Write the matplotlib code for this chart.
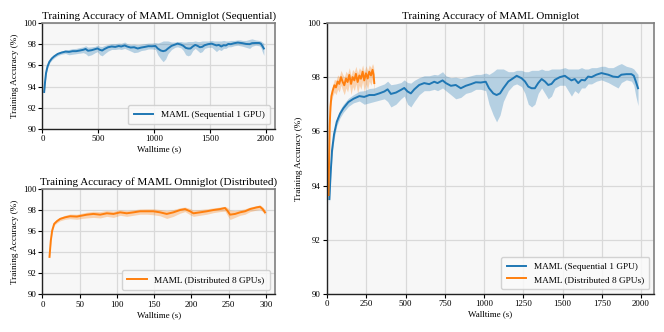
import numpy as np
import matplotlib
matplotlib.use('Agg')
from matplotlib import pyplot as plt

plt.rcParams['font.family'] = ['Liberation Serif', 'DejaVu Serif']

# Sequential run (1 GPU): walltime, mean accuracy, lower / upper band
seq_t = [15, 23, 32, 45, 62, 83, 104, 136, 168, 206, 237, 269, 301, 333, 365, 386,
         407, 439, 471, 492, 513, 534, 556, 587, 619, 651, 683, 704, 736, 757, 789,
         820, 852, 884, 916, 948, 979, 1011, 1032, 1059, 1080, 1102, 1123, 1155,
         1186, 1208, 1239, 1261, 1282, 1303, 1324, 1345, 1367, 1388, 1409, 1430,
         1451, 1483, 1515, 1536, 1557, 1578, 1600, 1621, 1642, 1663, 1685, 1716,
         1748, 1769, 1791, 1822, 1854, 1875, 1907, 1939, 1954, 1967, 1981]
seq_acc = [93.50, 94.45, 95.30, 95.90, 96.35, 96.65, 96.85, 97.08, 97.20, 97.30,
           97.27, 97.34, 97.34, 97.40, 97.47, 97.55, 97.38, 97.43, 97.53, 97.60,
           97.47, 97.40, 97.55, 97.71, 97.78, 97.74, 97.83, 97.78, 97.88, 97.78,
           97.68, 97.71, 97.59, 97.68, 97.74, 97.81, 97.80, 97.83, 97.59, 97.40,
           97.34, 97.40, 97.59, 97.84, 97.96, 98.05, 97.96, 97.84, 97.65, 97.59,
           97.59, 97.78, 97.93, 97.84, 97.71, 97.75, 97.90, 98.00, 98.05, 97.96,
           97.88, 97.93, 97.78, 97.90, 97.88, 98.02, 98.00, 98.09, 98.15, 98.12,
           98.09, 98.02, 98.00, 98.09, 98.11, 98.11, 98.05, 97.84, 97.59]
seq_lo = [93.30, 94.25, 95.10, 95.72, 96.20, 96.50, 96.70, 96.92, 97.05, 97.12,
          97.00, 97.05, 97.10, 97.15, 97.20, 97.10, 96.90, 97.00, 97.20, 97.30,
          97.00, 96.90, 97.10, 97.35, 97.50, 97.50, 97.55, 97.50, 97.60, 97.50,
          97.35, 97.20, 97.25, 97.40, 97.45, 97.55, 97.55, 97.50, 97.00, 96.60,
          96.35, 96.60, 97.10, 97.50, 97.70, 97.75, 97.65, 97.40, 97.00, 96.90,
          97.00, 97.40, 97.60, 97.40, 97.20, 97.30, 97.60, 97.70, 97.70, 97.50,
          97.30, 97.50, 97.40, 97.60, 97.60, 97.75, 97.75, 97.85, 97.90, 97.85,
          97.80, 97.70, 97.60, 97.80, 97.90, 97.85, 97.70, 97.30, 96.95]
seq_hi = [93.65, 94.60, 95.45, 96.05, 96.50, 96.80, 97.00, 97.22, 97.35, 97.48,
          97.50, 97.58, 97.60, 97.68, 97.75, 97.85, 97.72, 97.75, 97.80, 97.90,
          97.80, 97.78, 97.88, 97.98, 98.05, 98.05, 98.10, 98.08, 98.20, 98.05,
          97.98, 98.00, 97.95, 98.00, 98.05, 98.10, 98.10, 98.15, 98.10, 98.20,
          98.30, 98.30, 98.30, 98.20, 98.20, 98.25, 98.25, 98.20, 98.20, 98.25,
          98.25, 98.25, 98.30, 98.25, 98.25, 98.30, 98.30, 98.30, 98.35, 98.30,
          98.30, 98.30, 98.30, 98.35, 98.30, 98.30, 98.35, 98.35, 98.40, 98.40,
          98.35, 98.35, 98.45, 98.50, 98.40, 98.35, 98.30, 98.20, 98.10]

# Distributed run (8 GPUs), as shown in the lower-left panel
dist_t = [9.4, 11.2, 13.0, 15.7, 19.3, 23.7, 30.4, 37.1, 46.1, 52.8, 59.5, 68.4,
          77.4, 86.3, 95.3, 104.2, 113.1, 122.1, 131.0, 140.0, 148.9, 157.9, 166.8,
          175.7, 184.7, 191.4, 198.1, 202.6, 211.5, 220.5, 229.4, 238.3, 245.0,
          248.2, 251.8, 258.5, 265.2, 271.9, 278.6, 287.6, 292.0, 295.6, 298.7]
dist_acc = [93.56, 95.13, 96.06, 96.69, 96.94, 97.16, 97.31, 97.41, 97.38, 97.47,
            97.56, 97.63, 97.56, 97.69, 97.63, 97.78, 97.69, 97.78, 97.88, 97.88,
            97.88, 97.78, 97.63, 97.78, 98.00, 98.09, 97.88, 97.69, 97.78, 97.88,
            98.00, 98.09, 98.19, 97.94, 97.56, 97.63, 97.78, 97.88, 98.09, 98.25,
            98.31, 98.09, 97.78]
dist_lo = [93.35, 94.95, 95.90, 96.55, 96.78, 96.98, 97.12, 97.18, 97.12, 97.20,
           97.25, 97.30, 97.25, 97.40, 97.30, 97.50, 97.40, 97.50, 97.60, 97.60,
           97.55, 97.45, 97.20, 97.40, 97.70, 97.85, 97.55, 97.40, 97.50, 97.60,
           97.75, 97.85, 97.90, 97.50, 97.10, 97.30, 97.50, 97.60, 97.85, 98.00,
           98.05, 97.85, 97.55]
dist_hi = [93.75, 95.30, 96.22, 96.85, 97.10, 97.32, 97.50, 97.62, 97.60, 97.70,
           97.80, 97.88, 97.85, 97.95, 97.90, 98.02, 97.95, 98.02, 98.10, 98.12,
           98.12, 98.05, 97.95, 98.05, 98.22, 98.28, 98.15, 98.00, 98.05, 98.12,
           98.20, 98.28, 98.35, 98.25, 98.00, 97.95, 98.02, 98.12, 98.28, 98.42,
           98.48, 98.30, 98.02]

# Distributed run as drawn (unsmoothed) in the right-hand comparison panel
cmp_t = [10, 13, 17, 22, 28, 36, 47, 57, 68, 78, 89, 100, 110, 121, 131, 142, 153,
         163, 174, 184, 195, 206, 216, 227, 237, 248, 259, 269, 280, 290, 296, 301]
cmp_acc = [93.65, 94.90, 96.20, 96.90, 97.30, 97.50, 97.70, 97.62, 97.84, 97.75,
           98.00, 97.82, 97.70, 97.95, 97.82, 98.08, 97.75, 98.00, 97.88, 98.12,
           97.82, 98.06, 97.94, 98.20, 97.88, 98.14, 97.95, 98.20, 98.06, 98.27,
           98.10, 97.78]
cmp_lo = [93.45, 94.70, 96.00, 96.70, 97.10, 97.30, 97.45, 97.35, 97.55, 97.45,
          97.70, 97.50, 97.35, 97.60, 97.45, 97.75, 97.35, 97.65, 97.50, 97.75,
          97.40, 97.70, 97.55, 97.85, 97.45, 97.75, 97.55, 97.85, 97.70, 97.95,
          97.75, 97.45]
cmp_hi = [93.85, 95.10, 96.40, 97.10, 97.50, 97.70, 97.92, 97.88, 98.08, 98.02,
          98.25, 98.10, 98.00, 98.22, 98.12, 98.35, 98.05, 98.28, 98.20, 98.40,
          98.15, 98.35, 98.25, 98.45, 98.20, 98.42, 98.25, 98.45, 98.35, 98.50,
          98.40, 98.10]

seq_label = 'MAML (Sequential 1 GPU)'
dist_label = 'MAML (Distributed 8 GPUs)'
blue = '#1f77b4'
orange = '#ff7f0e'


def style_axes(ax):
    ax.set_facecolor('#f7f7f7')
    ax.grid(True, color='#d9d9d9', linewidth=0.9)
    ax.set_axisbelow(True)
    for side in ['top', 'right']:
        ax.spines[side].set_color('#7f7f7f')
        ax.spines[side].set_linewidth(1.2)
    for side in ['left', 'bottom']:
        ax.spines[side].set_color('#222222')
        ax.spines[side].set_linewidth(1.0)
    ax.tick_params(labelsize=6.4, length=3, width=0.8, pad=1.5)
    ax.set_ylim(90, 100)
    ax.set_yticks(np.arange(90, 101, 2))
    ax.set_xlabel('Walltime (s)', fontsize=6.5, labelpad=1.5)
    ax.set_ylabel('Training Accuracy (%)', fontsize=6.6, labelpad=3)


def plot_run(ax, t, acc, lo, hi, color, label):
    ax.fill_between(t, lo, hi, color=color, alpha=0.3, linewidth=0)
    ax.plot(t, acc, color=color, linewidth=1.4, label=label)


def add_legend(ax):
    ax.legend(loc='lower right', fontsize=6.7, frameon=True, edgecolor='#cccccc',
              facecolor='#fafafa', framealpha=0.85, handlelength=2.1,
              borderpad=0.6, labelspacing=0.45)


fig = plt.figure(figsize=(6.64, 3.32), dpi=100)

# Top-left: sequential
ax1 = fig.add_axes([0.064, 0.611, 0.350, 0.320])
style_axes(ax1)
plot_run(ax1, seq_t, seq_acc, seq_lo, seq_hi, blue, seq_label)
ax1.set_xlim(0, 2080)
ax1.set_xticks(np.arange(0, 2001, 500))
ax1.set_title('Training Accuracy of MAML Omniglot (Sequential)', fontsize=8, pad=3)
add_legend(ax1)

# Bottom-left: distributed
ax2 = fig.add_axes([0.064, 0.113, 0.350, 0.318])
style_axes(ax2)
plot_run(ax2, dist_t, dist_acc, dist_lo, dist_hi, orange, dist_label)
ax2.set_xlim(0, 312)
ax2.set_xticks(np.arange(0, 301, 50))
ax2.set_title('Training Accuracy of MAML Omniglot (Distributed)', fontsize=8, pad=3)
add_legend(ax2)

# Right: comparison
ax3 = fig.add_axes([0.4925, 0.1145, 0.4925, 0.8165])
style_axes(ax3)
plot_run(ax3, seq_t, seq_acc, seq_lo, seq_hi, blue, seq_label)
plot_run(ax3, cmp_t, cmp_acc, cmp_lo, cmp_hi, orange, dist_label)
ax3.set_xlim(0, 2083)
ax3.set_xticks(np.arange(0, 2001, 250))
ax3.set_title('Training Accuracy of MAML Omniglot', fontsize=8, pad=3)
add_legend(ax3)

fig.savefig('out.png', dpi=100)
plt.close(fig)
